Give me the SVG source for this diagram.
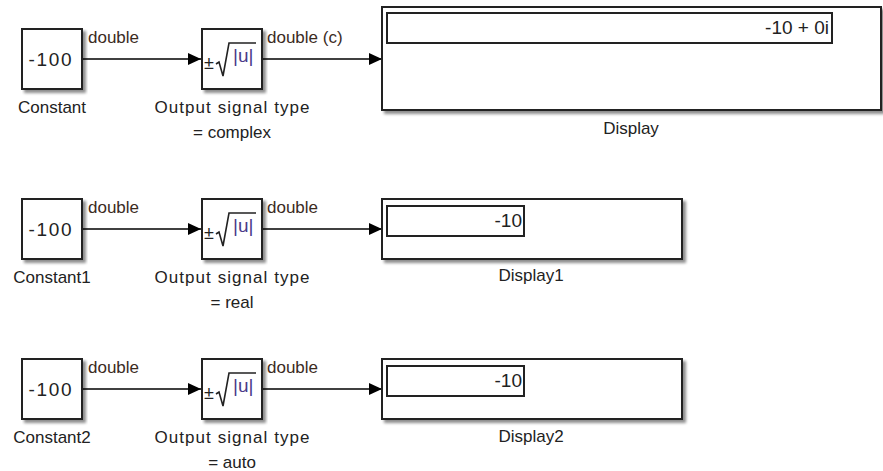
<svg xmlns="http://www.w3.org/2000/svg" width="883" height="471" viewBox="0 0 883 471">
<defs>
<filter id="sh" x="-5%" y="-5%" width="115%" height="130%">
<feGaussianBlur in="SourceAlpha" stdDeviation="1.5"/>
<feOffset dx="3" dy="3" result="o"/>
<feComponentTransfer><feFuncA type="linear" slope="0.45"/></feComponentTransfer>
<feMerge><feMergeNode/><feMergeNode in="SourceGraphic"/></feMerge>
</filter>
<marker id="arr" markerWidth="13" markerHeight="12" refX="13" refY="6" orient="auto" markerUnits="userSpaceOnUse">
<path d="M0,0 L13,6 L0,12 Z" fill="#000"/>
</marker>
</defs>
<style>
text{font-family:"Liberation Sans",Arial,sans-serif;font-size:17px;fill:#222}
.blk{fill:#fff;stroke:#222;stroke-width:2}
.in{fill:#fff;stroke:#222;stroke-width:2}
.val{font-size:19px}
.c{text-anchor:middle}
.r{text-anchor:end}
.sig{fill:#3b2b1e}
.pm{font-size:18px}
.rad{fill:none;stroke:#222;stroke-width:1.6}
.u{fill:#4a3a8a;font-size:19px}
.w{stroke:#000;stroke-width:1.5;fill:none;marker-end:url(#arr)}
</style>
<rect width="883" height="471" fill="#fff"/>

<g id="connectors">
<path class="w" d="M82,59 H201"/>
<path class="w" d="M262,59 H382"/>
<path class="w" d="M82,229 H201"/>
<path class="w" d="M262,229 H382"/>
<path class="w" d="M82,389 H201"/>
<path class="w" d="M262,389 H382"/>
<text class="sig" x="88" y="43">double</text>
<text class="sig" x="267" y="43">double (c)</text>
<text class="sig" x="88" y="213">double</text>
<text class="sig" x="267" y="213">double</text>
<text class="sig" x="88" y="373">double</text>
<text class="sig" x="267" y="373">double</text>
</g>

<g id="constant">
<rect class="blk" x="22" y="29" width="60" height="60" filter="url(#sh)"/>
<text class="c val" x="50" y="66" textLength="43" lengthAdjust="spacing">-100</text>
<text class="c" x="52" y="113">Constant</text>
</g>
<g id="sqrt">
<rect class="blk" x="202" y="29" width="60" height="60" filter="url(#sh)"/>
<text class="pm" x="204" y="69">±</text>
<path class="rad" d="M216,64 L219,62 L223,76 L229,43 H256"/>
<text class="u" x="233" y="62">|u|</text>
<text class="c" x="232" y="113" textLength="155" lengthAdjust="spacing">Output signal type</text>
<text class="c" x="232" y="138">= complex</text>
</g>
<g id="display">
<rect class="blk" x="382" y="7" width="499" height="103" filter="url(#sh)"/>
<rect class="in" x="387" y="13" width="445" height="30"/>
<text class="r val" x="829" y="34">-10 + 0i</text>
<text class="c" x="631" y="134">Display</text>
</g>

<g id="constant1">
<rect class="blk" x="22" y="199" width="60" height="60" filter="url(#sh)"/>
<text class="c val" x="50" y="236" textLength="43" lengthAdjust="spacing">-100</text>
<text class="c" x="52" y="283">Constant1</text>
</g>
<g id="sqrt1">
<rect class="blk" x="202" y="199" width="60" height="60" filter="url(#sh)"/>
<text class="pm" x="204" y="239">±</text>
<path class="rad" d="M216,234 L219,232 L223,246 L229,213 H256"/>
<text class="u" x="233" y="232">|u|</text>
<text class="c" x="232" y="283" textLength="155" lengthAdjust="spacing">Output signal type</text>
<text class="c" x="232" y="308">= real</text>
</g>
<g id="display1">
<rect class="blk" x="382" y="199" width="300" height="60" filter="url(#sh)"/>
<rect class="in" x="387" y="206" width="137" height="30"/>
<text class="r val" x="522" y="227">-10</text>
<text class="c" x="531" y="281">Display1</text>
</g>

<g id="constant2">
<rect class="blk" x="22" y="359" width="60" height="60" filter="url(#sh)"/>
<text class="c val" x="50" y="396" textLength="43" lengthAdjust="spacing">-100</text>
<text class="c" x="52" y="443">Constant2</text>
</g>
<g id="sqrt2">
<rect class="blk" x="202" y="359" width="60" height="60" filter="url(#sh)"/>
<text class="pm" x="204" y="399">±</text>
<path class="rad" d="M216,394 L219,392 L223,406 L229,373 H256"/>
<text class="u" x="233" y="392">|u|</text>
<text class="c" x="232" y="443" textLength="155" lengthAdjust="spacing">Output signal type</text>
<text class="c" x="232" y="468">= auto</text>
</g>
<g id="display2">
<rect class="blk" x="382" y="359" width="300" height="60" filter="url(#sh)"/>
<rect class="in" x="387" y="366" width="137" height="30"/>
<text class="r val" x="522" y="387">-10</text>
<text class="c" x="531" y="442">Display2</text>
</g>
</svg>
